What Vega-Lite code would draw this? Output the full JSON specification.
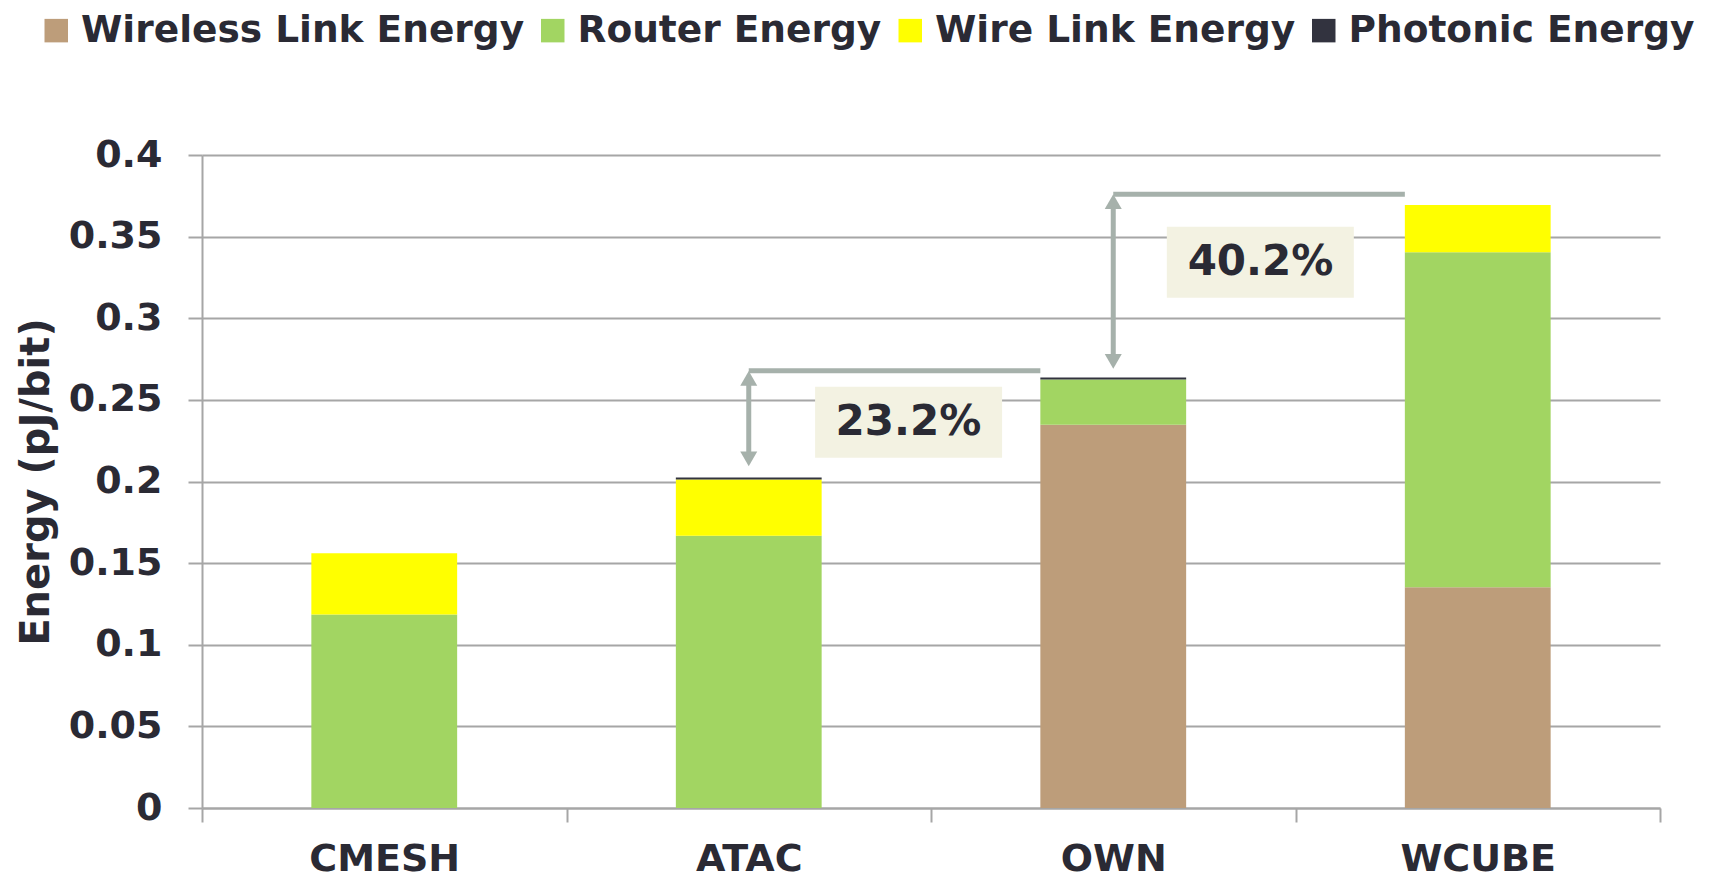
{
  "$schema": "https://vega.github.io/schema/vega-lite/v6.json",
  "width": 1458,
  "height": 653,
  "autosize": {"type": "none"},
  "padding": {"left": 202, "top": 155, "right": 52, "bottom": 72},
  "background": "white",
  "config": {
    "view": {"stroke": null},
    "font": "DejaVu Sans"
  },
  "datasets": {
    "energy": [
      {"design": "CMESH", "component": "Wireless Link Energy", "level": 1, "energy": 0},
      {"design": "CMESH", "component": "Router Energy", "level": 2, "energy": 0.1185},
      {"design": "CMESH", "component": "Wire Link Energy", "level": 3, "energy": 0.0375},
      {"design": "CMESH", "component": "Photonic Energy", "level": 4, "energy": 0},
      {"design": "ATAC", "component": "Wireless Link Energy", "level": 1, "energy": 0},
      {"design": "ATAC", "component": "Router Energy", "level": 2, "energy": 0.1667},
      {"design": "ATAC", "component": "Wire Link Energy", "level": 3, "energy": 0.0346},
      {"design": "ATAC", "component": "Photonic Energy", "level": 4, "energy": 0.0012},
      {"design": "OWN", "component": "Wireless Link Energy", "level": 1, "energy": 0.2348},
      {"design": "OWN", "component": "Router Energy", "level": 2, "energy": 0.0277},
      {"design": "OWN", "component": "Wire Link Energy", "level": 3, "energy": 0},
      {"design": "OWN", "component": "Photonic Energy", "level": 4, "energy": 0.0012},
      {"design": "WCUBE", "component": "Wireless Link Energy", "level": 1, "energy": 0.1352},
      {"design": "WCUBE", "component": "Router Energy", "level": 2, "energy": 0.2052},
      {"design": "WCUBE", "component": "Wire Link Energy", "level": 3, "energy": 0.029},
      {"design": "WCUBE", "component": "Photonic Energy", "level": 4, "energy": 0}
    ],
    "brackets": [
      {"from": 1.5, "to": 2.3, "top": 0.2678, "tip": 0.2092},
      {"from": 2.5, "to": 3.3, "top": 0.376, "tip": 0.269}
    ],
    "notes": [
      {"label": "23.2%", "x0": 1.682, "x1": 2.195, "y0": 0.2145, "y1": 0.258, "xm": 1.938, "ym": 0.2363},
      {"label": "40.2%", "x0": 2.647, "x1": 3.16, "y0": 0.3126, "y1": 0.3561, "xm": 2.904, "ym": 0.3344}
    ]
  },
  "layer": [
    {
      "data": {"name": "energy"},
      "mark": {"type": "bar", "width": {"band": 0.4}},
      "encoding": {
        "x": {
          "field": "design",
          "type": "nominal",
          "sort": ["CMESH", "ATAC", "OWN", "WCUBE"],
          "scale": {"paddingInner": 0, "paddingOuter": 0},
          "axis": {
            "title": null,
            "labelAngle": 0,
            "tickBand": "extent",
            "tickSize": 14,
            "tickWidth": 2,
            "tickColor": "#A6A6A6",
            "domainColor": "#A6A6A6",
            "domainWidth": 2,
            "labelPadding": 18.5,
            "labelFontSize": 38,
            "labelFontWeight": "bold",
            "labelColor": "#2A2A34",
            "grid": false
          }
        },
        "y": {
          "field": "energy",
          "type": "quantitative",
          "stack": "zero",
          "scale": {"domain": [0, 0.4], "nice": false},
          "axis": {
            "title": "Energy (pJ/bit)",
            "titleFontSize": 40,
            "titleFontWeight": "bold",
            "titleColor": "#2A2A34",
            "titlePadding": 12,
            "values": [0, 0.05, 0.1, 0.15, 0.2, 0.25, 0.3, 0.35, 0.4],
            "format": ".2~f",
            "labelFontSize": 38,
            "labelFontWeight": "bold",
            "labelColor": "#2A2A34",
            "labelPadding": 26,
            "tickSize": 14,
            "tickWidth": 2,
            "tickColor": "#A6A6A6",
            "domainColor": "#A6A6A6",
            "domainWidth": 2,
            "grid": true,
            "gridColor": "#A6A6A6",
            "gridWidth": 2
          }
        },
        "color": {
          "field": "component",
          "type": "nominal",
          "scale": {
            "domain": ["Wireless Link Energy", "Router Energy", "Wire Link Energy", "Photonic Energy"],
            "range": ["#BD9D7A", "#A2D562", "#FFFF00", "#32333F"]
          },
          "legend": {
            "title": null,
            "orient": "none",
            "legendX": -164.5,
            "legendY": -143.5,
            "direction": "horizontal",
            "columns": 4,
            "symbolType": "square",
            "symbolSize": 552,
            "symbolStrokeWidth": 0,
            "symbolOpacity": 1,
            "labelFontSize": 37.5,
            "labelFontWeight": "bold",
            "labelColor": "#2A2A34",
            "labelOffset": 6,
            "labelLimit": 0,
            "columnPadding": 9.5
          }
        },
        "order": {"field": "level", "type": "quantitative"}
      }
    },
    {
      "data": {"name": "brackets"},
      "mark": {"type": "rule", "color": "#A6B1AB", "strokeWidth": 5},
      "encoding": {
        "x": {"field": "from", "type": "quantitative", "scale": {"domain": [0, 4], "nice": false, "zero": false}, "axis": null},
        "x2": {"field": "to"},
        "y": {"field": "top", "type": "quantitative", "scale": {"domain": [0, 0.4], "nice": false}}
      }
    },
    {
      "data": {"name": "brackets"},
      "mark": {"type": "rule", "color": "#A6B1AB", "strokeWidth": 5, "yOffset": 8, "y2Offset": -8},
      "encoding": {
        "x": {"field": "from", "type": "quantitative", "scale": {"domain": [0, 4], "nice": false, "zero": false}, "axis": null},
        "y": {"field": "top", "type": "quantitative", "scale": {"domain": [0, 0.4], "nice": false}},
        "y2": {"field": "tip"}
      }
    },
    {
      "data": {"name": "brackets"},
      "mark": {"type": "point", "shape": "triangle-up", "filled": true, "opacity": 1, "color": "#A6B1AB", "size": 290, "yOffset": 7.5},
      "encoding": {
        "x": {"field": "from", "type": "quantitative", "scale": {"domain": [0, 4], "nice": false, "zero": false}, "axis": null},
        "y": {"field": "top", "type": "quantitative", "scale": {"domain": [0, 0.4], "nice": false}}
      }
    },
    {
      "data": {"name": "brackets"},
      "mark": {"type": "point", "shape": "triangle-down", "filled": true, "opacity": 1, "color": "#A6B1AB", "size": 290, "yOffset": -7.5},
      "encoding": {
        "x": {"field": "from", "type": "quantitative", "scale": {"domain": [0, 4], "nice": false, "zero": false}, "axis": null},
        "y": {"field": "tip", "type": "quantitative", "scale": {"domain": [0, 0.4], "nice": false}}
      }
    },
    {
      "data": {"name": "notes"},
      "mark": {"type": "rect", "color": "#F3F2E2"},
      "encoding": {
        "x": {"field": "x0", "type": "quantitative", "scale": {"domain": [0, 4], "nice": false, "zero": false}, "axis": null},
        "x2": {"field": "x1"},
        "y": {"field": "y0", "type": "quantitative", "scale": {"domain": [0, 0.4], "nice": false}},
        "y2": {"field": "y1"}
      }
    },
    {
      "data": {"name": "notes"},
      "mark": {"type": "text", "fontSize": 42, "fontWeight": "bold", "color": "#2A2A34", "align": "center", "baseline": "middle"},
      "encoding": {
        "x": {"field": "xm", "type": "quantitative", "scale": {"domain": [0, 4], "nice": false, "zero": false}, "axis": null},
        "y": {"field": "ym", "type": "quantitative", "scale": {"domain": [0, 0.4], "nice": false}},
        "text": {"field": "label"}
      }
    }
  ],
  "resolve": {"scale": {"x": "independent"}}
}
